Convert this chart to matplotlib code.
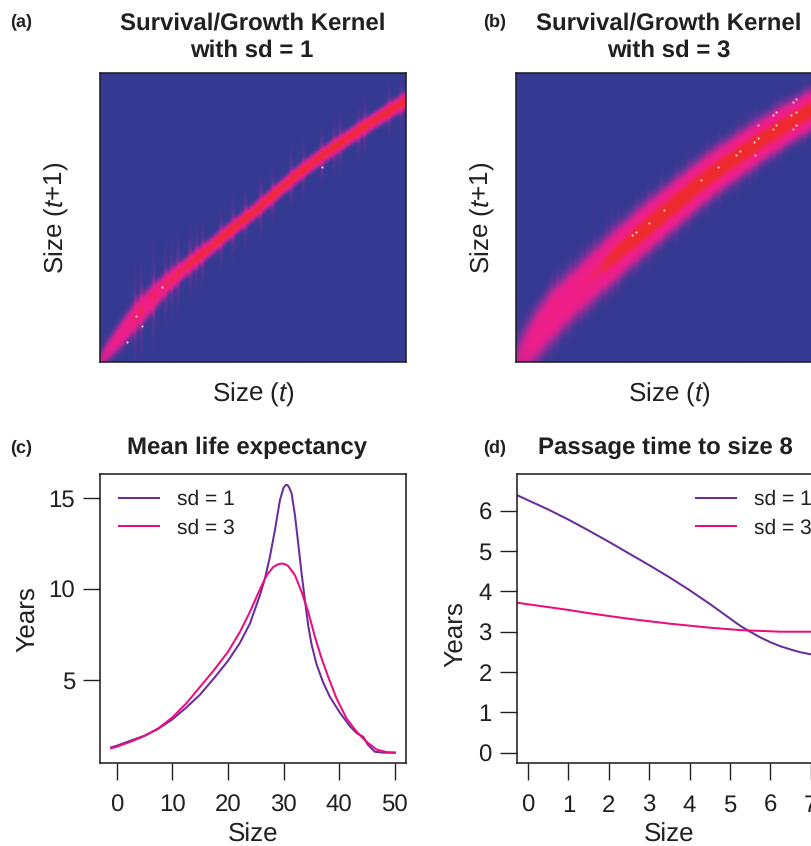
import numpy as np
import matplotlib
matplotlib.use("Agg")
import matplotlib.pyplot as plt
from matplotlib.colors import LinearSegmentedColormap

# ---------- data ----------
crest_sizes = [-1, 0, 2.5, 5, 7.5, 10, 12.5, 15, 17.5, 20, 22.5, 25, 27.5, 30, 32.5, 35, 37.5, 40, 42.5, 45, 47.5, 50]
crest_sd1 = [-1.0, 0.6, 3.8, 7.15, 9.95, 12.7, 15.0, 17.2, 19.3, 21.6, 23.7, 25.8, 28.1, 30.4, 32.6, 34.6, 36.5, 38.3, 40.1, 41.8, 43.5, 45.1]
crest_sd3 = [-1.0, 0.3, 3.9, 7.3, 9.9, 12.4, 14.9, 17.3, 19.7, 22.0, 24.2, 26.4, 28.6, 30.8, 32.8, 34.6, 36.4, 38.2, 39.9, 41.5, 43.0, 44.5]
spread_sd1 = [1.2, 1.35, 1.55, 1.6, 1.5, 1.2, 1.0, 0.92, 0.88, 0.85, 0.82, 0.82, 0.82, 0.82, 0.82, 0.82, 0.82, 0.82, 0.82, 0.82, 0.84, 0.86]
spread_sd3 = [3.0, 3.1, 3.1, 3.0, 2.9, 2.85, 2.8, 2.75, 2.7, 2.65, 2.6, 2.55, 2.5, 2.45, 2.4, 2.35, 2.3, 2.25, 2.2, 2.15, 2.1, 2.05]
peak_sd1 = [0.3, 0.42, 0.6, 0.72, 0.75, 0.76, 0.83, 0.9, 0.96, 1.0, 1.0, 1.0, 1.0, 1.0, 1.0, 1.0, 1.0, 1.0, 1.0, 1.0, 1.0, 1.0]
peak_sd3 = [0.28, 0.38, 0.58, 0.68, 0.7, 0.72, 0.78, 0.88, 0.94, 1.0, 1.0, 1.0, 1.0, 1.0, 1.0, 1.0, 1.0, 1.0, 1.0, 1.0, 1.0, 1.0]
streak_sizes = [5, 6, 8, 10, 11, 12, 14, 15, 16, 19, 21, 23, 26, 28, 31, 33, 36, 38, 39, 42, 43, 47, 49]
streak_strength = [.12, .13, .14, .13, .12, .14, .14, .13, .14, .13, .15, .15, .15, .13, .14, .13, .14, .13, .14, .13, .13, .12, .12]
speck_a_x = [3.5, 5.0, 6.0, 9.4, 36.1]
speck_a_y = [2.5, 7.1, 5.3, 12.2, 33.4]
speck_b_x = [18.4, 19, 21.1, 23.6, 29.8, 32.6, 35.7, 36.4, 38.9, 38.6, 39.4, 39.4,
             41.9, 42.4, 41.9, 42.4, 44.9, 45.7, 45.1, 45.7, 45.1, 45.7, 48.3, 48.3]
speck_b_y = [21.4, 21.9, 23.6, 25.9, 31.1, 33.4, 35.6, 36.2, 35.6, 37.9, 38.5, 40.8,
             42.5, 43.1, 40.2, 40.8, 42.5, 43.1, 40.2, 40.8, 44.8, 45.4, 44.8, 42.5]

life_x1 = [-1, 0, 2.5, 5, 7.5, 10, 12.5, 15, 17.5, 20, 22.16, 23.95, 25.75, 26.65, 27.54, 28.44, 29.34, 29.94, 30.3, 30.66,
           31.0, 31.44, 32.04, 32.63, 33.23, 33.83, 34.43, 35.03, 35.93, 37.13, 38.32, 40.12, 41.92, 43.12, 44.31, 45.21, 46.41, 47.9, 50]
life_sd1 = [1.29, 1.38, 1.66, 1.93, 2.32, 2.83, 3.48, 4.2, 5.1, 6.05, 7.05, 8.11, 9.67, 10.59, 11.78, 13.25, 14.9, 15.54, 15.72, 15.74,
            15.6, 15.27, 14.07, 12.51, 10.88, 9.39, 7.99, 6.95, 5.85, 4.85, 4.07, 3.2, 2.45, 2.08, 1.87, 1.41, 1.05, 1.0, 1.0]
life_x3 = [-1, 0, 2.5, 5, 7.5, 10, 12.5, 15, 17.5, 20, 22.16, 23.95, 25.75, 26.95, 28.14, 29.0, 29.64, 30.3, 30.84, 32.04, 33.23, 34.43,
           35.63, 36.83, 38.02, 39.52, 41.32, 43.12, 44.91, 46.71, 48.5, 50]
life_sd3 = [1.24, 1.33, 1.6, 1.92, 2.34, 2.94, 3.71, 4.63, 5.55, 6.55, 7.65, 8.75, 10.0, 10.76, 11.22, 11.37, 11.41, 11.37, 11.27, 10.77, 9.85, 8.75,
            7.38, 6.18, 5.17, 3.98, 2.88, 2.15, 1.6, 1.17, 1.03, 1.0]

passage_x = [-0.28, 0, 0.5, 1, 1.5, 2, 2.5, 3, 3.5, 4, 4.5, 5, 5.25, 5.5, 5.75, 6, 6.25, 6.5, 6.75, 7, 7.28]
passage_sd1 = [6.39, 6.26, 6.03, 5.78, 5.51, 5.23, 4.94, 4.65, 4.35, 4.03, 3.69, 3.33, 3.15, 3.0, 2.86, 2.74,
               2.64, 2.56, 2.49, 2.44, 2.4]
passage_sd3 = [3.72, 3.68, 3.61, 3.54, 3.46, 3.39, 3.32, 3.26, 3.2, 3.15, 3.1, 3.06, 3.04, 3.03, 3.02, 3.01,
               3.0, 3.0, 3.0, 3.0, 3.0]
size_ticks_c = [0, 10, 20, 30, 40, 50]
year_ticks_c = [5, 10, 15]
size_ticks_d = [0, 1, 2, 3, 4, 5, 6, 7]
year_ticks_d = [0, 1, 2, 3, 4, 5, 6]
legend_labels = ["sd = 1", "sd = 3"]

# ---------- style ----------
W, H = 812, 846
INK = "#231F20"
PURPLE = "#6A2C9A"
PINK = "#EC0C7E"
plt.rcParams["font.family"] = ["Liberation Sans", "DejaVu Sans"]
plt.rcParams["mathtext.fontset"] = "custom"
plt.rcParams["mathtext.rm"] = "Liberation Sans"
plt.rcParams["mathtext.it"] = "Liberation Sans:italic"
plt.rcParams["text.color"] = INK
plt.rcParams["text.hinting"] = "no_hinting"
plt.rcParams["text.hinting_factor"] = 1

kernel_cmap = LinearSegmentedColormap.from_list("kernel", [
    (0.00, "#343A92"), (0.05, "#3A3993"), (0.20, "#85309A"), (0.36, "#D5238F"),
    (0.50, "#EE1E8C"), (0.74, "#EF1F85"), (0.86, "#EE2A3A"), (1.00, "#EE2A2E")])

fig = plt.figure(figsize=(W / 100, H / 100), dpi=100, facecolor="white")


def px_axes(l, t, r, b):
    return fig.add_axes([l / W, 1 - b / H, (r - l) / W, (b - t) / H])


def px_text(x, y, s, **kw):
    kw.setdefault("ha", "center")
    kw.setdefault("va", "center")
    fig.text(x / W, 1 - y / H, s, **kw)


def kernel_image(ax, crest, spread, peak, streak_scale, sx, sy):
    edges = np.linspace(-1, 50, 101)
    mids = (edges[:-1] + edges[1:]) / 2
    c = np.interp(mids, crest_sizes, crest)
    s = np.interp(mids, crest_sizes, spread)
    p = np.interp(mids, crest_sizes, peak)
    st = np.zeros(100)
    st[np.searchsorted(edges, streak_sizes) - 1] = streak_strength
    d = mids[:, None] - c[None, :]
    z = p * np.exp(-d ** 2 / (2 * s ** 2)) + streak_scale * st * np.exp(-d ** 2 / (2 * (4.5 * s) ** 2))
    ax.imshow(z, origin="lower", extent=(-1, 50, -1, 50), aspect="auto", cmap=kernel_cmap,
              vmin=0, vmax=1, interpolation="bilinear")
    ax.plot(sx, sy, ls="none", marker="s", ms=1.2, mew=0, color="white")
    ax.set_xlim(-1, 50)
    ax.set_ylim(-1, 50)
    ax.set_xticks([])
    ax.set_yticks([])
    for sp in ax.spines.values():
        sp.set_linewidth(1.15)
        sp.set_color(INK)


def line_panel(ax, x1, y1, x3, y3, xlim, ylim, xt, yt, legend_px):
    l1, = ax.plot(x1, y1, color=PURPLE, lw=1.45, solid_joinstyle="round")
    l3, = ax.plot(x3, y3, color=PINK, lw=1.45, solid_joinstyle="round")
    ax.set_xlim(*xlim)
    ax.set_ylim(*ylim)
    ax.set_xticks(xt)
    ax.set_yticks(yt)
    ax.tick_params(axis="x", length=12, width=1.0, color=INK, pad=10.5, labelsize=17, labelcolor=INK)
    ax.tick_params(axis="y", length=12, width=1.0, color=INK, pad=6, labelsize=17, labelcolor=INK)
    for sp in ax.spines.values():
        sp.set_linewidth(1.15)
        sp.set_color(INK)
    lg = ax.legend([l1, l3], legend_labels, loc="upper left",
                   bbox_to_anchor=(legend_px[0] / W, 1 - legend_px[1] / H),
                   bbox_transform=fig.transFigure, frameon=False, fontsize=15,
                   borderpad=0, borderaxespad=0, handlelength=1.92, handletextpad=0.86,
                   labelspacing=0.42)
    for t in lg.get_texts():
        t.set_color(INK)


# ---------- panels ----------
ax_a = px_axes(100, 73, 405.7, 362)
kernel_image(ax_a, crest_sd1, spread_sd1, peak_sd1, 1.0, speck_a_x, speck_a_y)
ax_b = px_axes(516, 73, 822, 362)
kernel_image(ax_b, crest_sd3, spread_sd3, peak_sd3, 0.3, speck_b_x, speck_b_y)
ax_c = px_axes(100, 474, 406, 763)
line_panel(ax_c, life_x1, life_sd1, life_x3, life_sd3, (-3, 52), (0.43, 16.34),
           size_ticks_c, year_ticks_c, (119, 490))
ax_d = px_axes(516.7, 474, 822, 763)
line_panel(ax_d, passage_x, passage_sd1, passage_x, passage_sd3, (-0.28, 7.28), (-0.255, 6.91),
           size_ticks_d, year_ticks_d, (695.7, 490))

# ---------- text ----------
TITLE = dict(fontsize=17, fontweight="bold")
TAG = dict(fontsize=13, fontweight="bold", ha="left")
LAB = dict(fontsize=19)
px_text(253, 23, "Survival/Growth Kernel", **TITLE)
px_text(252, 50.5, "with sd = 1", **TITLE)
px_text(669, 23, "Survival/Growth Kernel", **TITLE)
px_text(669, 50.5, "with sd = 3", **TITLE)
px_text(247.5, 448, "Mean life expectancy", **TITLE)
px_text(665, 448, "Passage time to size 8", **TITLE)
px_text(10, 22, "(a)", **TAG)
px_text(483, 22, "(b)", **TAG)
px_text(10, 448, "(c)", **TAG)
px_text(483, 448, "(d)", **TAG)
px_text(253, 395, r"Size ($\mathit{t}$)", **LAB)
px_text(669, 395, r"Size ($\mathit{t}$)", **LAB)
px_text(57, 218, r"Size ($\mathit{t}$+1)", rotation=90, **LAB)
px_text(483, 218, r"Size ($\mathit{t}$+1)", rotation=90, **LAB)
px_text(28, 619, "Years", rotation=90, **LAB)
px_text(456, 634, "Years", rotation=90, **LAB)
px_text(253, 835, "Size", **LAB)
px_text(669, 835, "Size", **LAB)

fig.savefig("out.png", dpi=100, facecolor="white")
